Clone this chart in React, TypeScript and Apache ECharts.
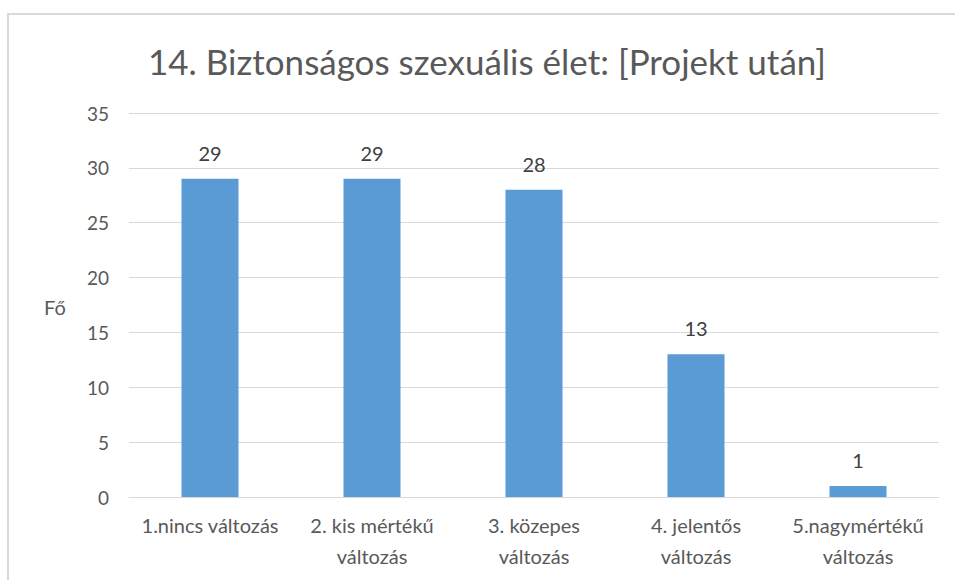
import React, { useEffect, useRef } from "react";
import * as echarts from "echarts";

const title = "14. Biztonságos szexuális élet: [Projekt után]";
const categories = [
  "1.nincs változás",
  "2. kis mértékű\nváltozás",
  "3. közepes\nváltozás",
  "4. jelentős\nváltozás",
  "5.nagymértékű\nváltozás",
];
const values = [29, 29, 28, 13, 1];
const yName = "Fő";

const FONT = "Lato, 'Open Sans', sans-serif";

export default function App() {
  const ref = useRef<HTMLDivElement>(null);
  useEffect(() => {
    const chart = echarts.init(ref.current!, null, { renderer: "svg" });
    chart.setOption({
      animation: false,
      backgroundColor: "#ffffff",
      textStyle: { fontFamily: FONT },
      title: {
        text: title,
        left: 143,
        top: 38,
        textStyle: { fontFamily: FONT, fontSize: 35, fontWeight: "normal", color: "#595959" },
      },
      graphic: [
        { type: "line", shape: { x1: 7, y1: 14, x2: 955, y2: 14 }, style: { stroke: "#d9d9d9", lineWidth: 2 } },
        { type: "line", shape: { x1: 8, y1: 13, x2: 8, y2: 580 }, style: { stroke: "#d9d9d9", lineWidth: 2 } },
        {
          type: "text",
          left: 44,
          top: 297,
          style: { text: yName, fontFamily: FONT, fontSize: 20, fill: "#595959" },
        },
      ],
      grid: { left: 129, right: 16, top: 113, bottom: 83, containLabel: false },
      xAxis: {
        type: "category",
        data: categories,
        axisLine: { show: true, lineStyle: { color: "#d9d9d9", width: 1 } },
        axisTick: { show: false },
        axisLabel: {
          color: "#595959",
          fontFamily: FONT,
          fontSize: 20,
          lineHeight: 31,
          margin: 12,
          interval: 0,
        },
      },
      yAxis: {
        type: "value",
        min: 0,
        max: 35,
        interval: 5,
        axisLine: { show: false },
        axisTick: { show: false },
        axisLabel: { color: "#595959", fontFamily: FONT, fontSize: 19, margin: 20 },
        splitLine: { lineStyle: { color: "#d9d9d9", width: 1 } },
      },
      series: [
        {
          type: "bar",
          data: values,
          barWidth: 57,
          itemStyle: { color: "#5b9bd5" },
          label: {
            show: true,
            position: "top",
            distance: 16,
            color: "#404040",
            fontFamily: FONT,
            fontSize: 20,
          },
        },
      ],
    });
    return () => chart.dispose();
  }, []);
  return (
    <div
      ref={ref}
      style={{ position: "fixed", left: 0, top: 0, width: 955, height: 580 }}
    />
  );
}
